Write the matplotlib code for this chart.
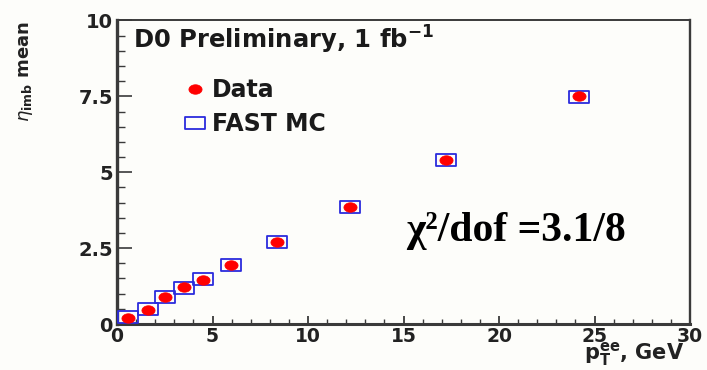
import numpy as np
import matplotlib
matplotlib.use("Agg")
import matplotlib.pyplot as plt
from matplotlib.path import Path
from matplotlib.ticker import MultipleLocator

# Mean eta_imb versus dielectron pT, data and fast simulation
pt_ee = [0.6, 1.6, 2.5, 3.5, 4.5, 5.95, 8.4, 12.2, 17.2, 24.2]
eta_data = [0.19, 0.46, 0.90, 1.21, 1.45, 1.94, 2.71, 3.86, 5.42, 7.50]
eta_fastmc = [0.22, 0.51, 0.90, 1.20, 1.47, 1.93, 2.70, 3.86, 5.40, 7.49]

x_ticks = [0, 5, 10, 15, 20, 25, 30]
y_ticks = [0, 2.5, 5, 7.5, 10]
y_tick_labels = ["0", "2.5", "5", "7.5", "10"]

plt.rcParams["mathtext.fontset"] = "dejavusans"
root_font = "DejaVu Sans"

fig = plt.figure(figsize=(7.07, 3.70), dpi=100, facecolor="#fdfdfa")
ax = fig.add_axes([0.1655, 0.1243, 0.8105, 0.8203], facecolor="#fdfdfa")

# wide markers: open rectangle for MC, flattened dot for data
rect_marker = Path([(-1, -0.57), (1, -0.57), (1, 0.57), (-1, 0.57), (-1, -0.57)],
                   [Path.MOVETO, Path.LINETO, Path.LINETO, Path.LINETO, Path.CLOSEPOLY])
theta = np.linspace(0, 2 * np.pi, 60)
ell_marker = Path(np.column_stack([np.cos(theta), 0.72 * np.sin(theta)]))

mc_line, = ax.plot(pt_ee, eta_fastmc, linestyle="none", marker=rect_marker,
                   markersize=15, markerfacecolor="none",
                   markeredgecolor="#2b2bdd", markeredgewidth=1.3,
                   label="FAST MC", zorder=3)
data_line, = ax.plot(pt_ee, eta_data, linestyle="none", marker=ell_marker,
                     markersize=9.5, markerfacecolor="#ff0000",
                     markeredgecolor="#ff0000", markeredgewidth=0.5,
                     label="Data", zorder=4)

ax.set_xlim(0, 30)
ax.set_ylim(0, 10)
ax.set_xticks(x_ticks)
ax.set_yticks(y_ticks)
ax.set_yticklabels(y_tick_labels)
ax.xaxis.set_minor_locator(MultipleLocator(1))
ax.yaxis.set_minor_locator(MultipleLocator(0.5))

spine_col = "#3a3a3a"
ax.spines["left"].set_linewidth(2.4)
ax.spines["bottom"].set_linewidth(2.2)
ax.spines["top"].set_linewidth(1.4)
ax.spines["right"].set_linewidth(1.7)
for s in ax.spines.values():
    s.set_color(spine_col)

ax.tick_params(axis="both", which="both", direction="in", color=spine_col,
               top=False, right=False)
ax.tick_params(axis="y", which="major", length=11, width=1.2, pad=3)
ax.tick_params(axis="y", which="minor", length=6, width=1.0)
ax.tick_params(axis="x", which="major", length=6, width=1.3, pad=2.5)
ax.tick_params(axis="x", which="minor", length=3.5, width=1.0)
for lab in ax.get_xticklabels() + ax.get_yticklabels():
    lab.set_fontfamily(root_font)
    lab.set_fontweight("bold")
    lab.set_fontsize(14)
    lab.set_color("#222222")
for lab in ax.get_xticklabels():
    lab.set_fontsize(13.5)

ax.set_xlabel(r"p$_{\mathbf{T}}^{\mathbf{ee}}$, GeV", fontsize=15,
              fontweight="bold", family=root_font, color="#222222", loc="right")
ax.xaxis.set_label_coords(0.99, -0.052)
ax.set_ylabel(r"$\eta_{\mathbf{imb}}$ mean", fontsize=13,
              fontweight="bold", family=root_font, color="#222222", loc="top")
ax.yaxis.set_label_coords(-0.143, 1.0)

ax.text(0.028, 0.935, r"D0 Preliminary, 1 fb$^{\mathbf{-1}}$", transform=ax.transAxes,
        fontsize=17.5, fontweight="bold", family=root_font, color="#1a1a1a",
        va="center", ha="left")

leg = ax.legend(handles=[data_line, mc_line], loc="upper left",
                bbox_to_anchor=(0.12, 0.81), frameon=False,
                prop={"family": root_font, "weight": "bold", "size": 17},
                handlelength=0.8, handletextpad=0.3, labelspacing=0.42,
                borderpad=0.0, borderaxespad=0.0)
for t in leg.get_texts():
    t.set_color("#1a1a1a")

ax.text(0.505, 0.305, "\u03c7\u00b2/dof =3.1/8", transform=ax.transAxes,
        fontsize=30, fontweight="bold", family="Liberation Serif",
        color="#000000", va="center", ha="left")

fig.savefig("out.png", dpi=100, facecolor=fig.get_facecolor())
